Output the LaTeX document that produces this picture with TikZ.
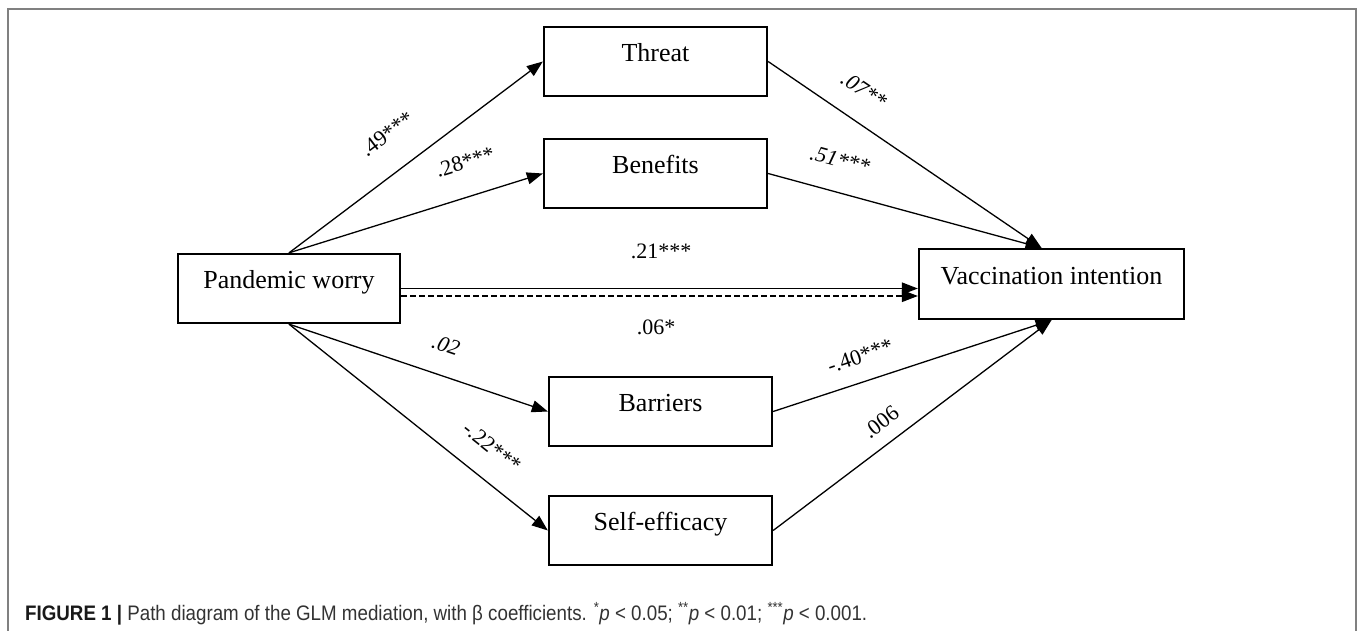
\documentclass[tikz,border=0pt]{standalone}
\usepackage{fontspec}
\usepackage{graphicx}
\setmainfont{Liberation Serif}
\newfontfamily\capfont{Liberation Sans}
\usetikzlibrary{arrows.meta}
\begin{document}
\begin{tikzpicture}[x=1pt,y=-1pt,
  box/.style={draw=black, line width=2.3pt, minimum width=223pt, minimum height=69pt,
    inner sep=0pt, text height=0pt, text depth=0pt, font=\fontsize{26}{30}\selectfont},
  conn/.style={line width=1.3pt, -{Triangle[length=16pt,width=12pt]}},
  lab/.style={font=\fontsize{22}{26}\selectfont, inner sep=1pt},
  ilab/.style={lab, font=\fontsize{22}{26}\selectfont\itshape},
  frame/.style={draw=black!50, line width=1.5pt}
]
\fill[white] (0,0) rectangle (1358,631);
\useasboundingbox (0,0) rectangle (1358,631);
\draw[frame] (8,640) -- (8,9) -- (1356,9) -- (1356,640);

% boxes
\node[box] (T) at (655.5,61.5) {Threat};
\node[box] (B) at (655.5,173.5) {Benefits};
\node[box] (R) at (660.5,411.5) {Barriers};
\node[box] (S) at (660.5,530.5) {Self-efficacy};
\node[box, minimum width=222pt] (P) at (289,288.5) {Pandemic worry};
\node[box, minimum width=265pt, minimum height=70pt] (V) at (1051.5,284) {Vaccination intention};

% connectors
\draw[conn] (P.north) -- (T.west);
\draw[conn] (P.north) -- (B.west);
\draw[conn] (P.south) -- (R.west);
\draw[conn] (P.south) -- (S.west);
\draw[conn] (T.east) -- ([xshift=-10pt]V.north);
\draw[conn] (B.east) -- ([xshift=-10pt]V.north);
\draw[conn] (R.east) -- (V.south);
\draw[conn] (S.east) -- (V.south);
\coordinate (ps) at (P.east);
\coordinate (pd) at ([yshift=-7.5pt]P.east);
\draw[conn] (ps) -- (ps -| V.west);
\draw[conn, dash pattern=on 6pt off 3pt] (pd) -- (pd -| V.west);

% labels
\node[lab, rotate=37] (l1) at (387,134) {.49***};
\node[lab, rotate=17.6] (l2) at (465,162) {.28***};
\node[lab] (l3) at (661,251) {.21***};
\node[lab] (l4) at (656,327) {.06*};
\node[ilab, rotate=-34] (l5) at (864,90) {.07**};
\node[ilab, rotate=-15] (l6) at (840,160) {.51***};
\node[ilab, rotate=-19] (l7) at (446,345) {.02};
\node[lab, rotate=-38.6] (l8) at (492,447) {-.22***};
\node[lab, rotate=19] (l9) at (860,356) {-.40***};
\node[lab, rotate=37.6] (l10) at (881,422) {.006};

% caption
\node[anchor=base west, inner sep=0pt, text=black!80] (cap) at (25,620)
  {\resizebox{842pt}{\height}{\capfont\fontsize{21}{24}\selectfont
  {\bfseries\color{black!90}FIGURE 1 |} Path diagram of the GLM mediation, with β coefficients.
  \textsuperscript{*}\textit{p} < 0.05; \textsuperscript{**}\textit{p} < 0.01; \textsuperscript{***}\textit{p} < 0.001.}};
\end{tikzpicture}
\end{document}
